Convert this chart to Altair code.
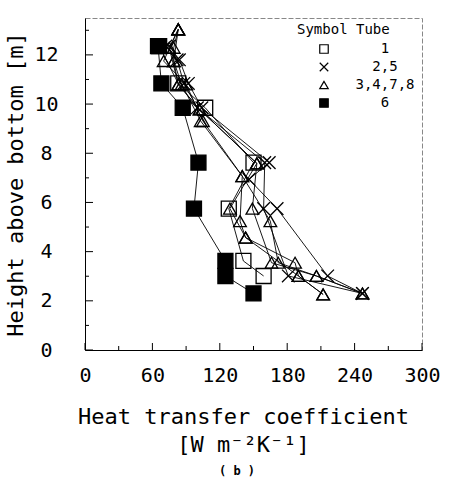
import altair as alt
import pandas as pd

# Heat transfer coefficient profiles along the column height, one list pair per tube
# (height above bottom in m, coefficient in W m^-2 K^-1)
tube1_h = [12.36, 10.84, 9.85, 7.62, 5.75, 3.62, 3.01]
tube1_k = [66, 83, 107, 150, 128, 141, 159]

tube2_h = [12.36, 11.80, 10.84, 9.85, 7.62, 5.75, 3.01, 2.30]
tube2_k = [72, 82, 88, 100, 160, 159, 181, 247]

tube5_h = [12.36, 11.80, 10.84, 9.85, 7.62, 6.94, 5.75, 3.01, 2.30]
tube5_k = [75, 84, 92, 104, 164, 146, 171, 216, 247]

tube3_h = [13.04, 12.29, 11.75, 10.80, 9.78, 7.59, 5.75, 3.55, 3.01, 2.30]
tube3_k = [83, 79, 79, 83, 102, 153, 149, 166, 206, 247]

tube4_h = [13.04, 11.75, 10.80, 9.31, 7.07, 5.24, 4.57, 3.55, 3.01, 2.26]
tube4_k = [83, 70, 90, 105, 140, 138, 143, 187, 190, 212]

tube7_h = [13.04, 11.75, 10.80, 9.31, 7.07, 5.24, 3.55, 3.01, 2.30]
tube7_k = [83, 79, 86, 103, 140, 165, 172, 206, 247]

tube8_h = [13.04, 12.29, 10.80, 9.78, 7.59, 5.75, 4.57, 3.01, 2.26]
tube8_k = [83, 75, 83, 102, 153, 129, 143, 190, 212]

tube6_h = [12.36, 10.84, 9.85, 7.62, 5.75, 3.62, 3.01, 2.30]
tube6_k = [65, 68, 87, 101, 97, 125, 125, 150]

groups = ["1", "2,5", "3,4,7,8", "6"]
x_ticks = [0, 30, 60, 90, 120, 150, 180, 210, 240, 270, 300]
x_labels = [0, 60, 120, 180, 240, 300]
y_ticks = list(range(0, 14))
y_labels = [0, 2, 4, 6, 8, 10, 12]

series = [
    ("1", "1", tube1_h, tube1_k),
    ("2", "2,5", tube2_h, tube2_k),
    ("5", "2,5", tube5_h, tube5_k),
    ("3", "3,4,7,8", tube3_h, tube3_k),
    ("4", "3,4,7,8", tube4_h, tube4_k),
    ("7", "3,4,7,8", tube7_h, tube7_k),
    ("8", "3,4,7,8", tube8_h, tube8_k),
    ("6", "6", tube6_h, tube6_k),
]
rows = []
for tube, grp, hs, ks in series:
    for i, (h, k) in enumerate(zip(hs, ks)):
        rows.append({"tube": tube, "group": grp, "seq": i, "h": h, "k": k})
df = pd.DataFrame(rows)

FONT = "DejaVu Sans Mono"
W, H = 337, 332

xs = alt.Scale(domain=[0, 300], nice=False, zero=False)
ys = alt.Scale(domain=[0, 13.5], nice=False, zero=False)

cross = "M-1,-1L1,1M-1,1L1,-1"
shape_scale = alt.Scale(domain=groups, range=["square", cross, "triangle-up", "square"])
fill_scale = alt.Scale(domain=groups, range=["transparent", "transparent", "transparent", "black"])
stroke_scale = alt.Scale(domain=groups, range=["black", "black", "black", "black"])

legend = alt.Legend(
    title="Symbol Tube",
    orient="none",
    legendX=212,
    legendY=5,
    titleFont=FONT,
    titleFontSize=14,
    titleFontWeight="normal",
    titleColor="black",
    titlePadding=5,
    labelFont=FONT,
    labelFontSize=14,
    labelColor="black",
    labelAlign="center",
    labelOffset=54,
    symbolOffset=20,
    symbolSize=72,
    symbolStrokeColor="black",
    symbolStrokeWidth=1.2,
    symbolOpacity=1,
    rowPadding=4,
)

x_axis = alt.Axis(
    values=x_labels,
    title=["Heat transfer coefficient", "[W m\u207b\u00b2K\u207b\u00b9]"],
    titleX=158,
    titleY=56,
    titleBaseline="top",
    titleAlign="center",
    titleLineHeight=28,
)
y_axis = alt.Axis(
    values=y_labels,
    title="Height above bottom [m]",
    titleX=-70,
    titleY=166,
    titleAngle=270,
    titleAlign="center",
    titleBaseline="middle",
)

lines = alt.Chart(df).mark_line(color="black", strokeWidth=0.9).encode(
    x=alt.X("k:Q", scale=xs, axis=x_axis),
    y=alt.Y("h:Q", scale=ys, axis=y_axis),
    detail="tube:N",
    order="seq:Q",
)


def symbols(selected, size):
    return (
        alt.Chart(df)
        .transform_filter(alt.FieldOneOfPredicate(field="group", oneOf=selected))
        .mark_point(opacity=1, strokeWidth=1.3, size=size)
        .encode(
            x=alt.X("k:Q", scale=xs, axis=x_axis),
            y=alt.Y("h:Q", scale=ys, axis=y_axis),
            shape=alt.Shape("group:N", scale=shape_scale, legend=legend),
            fill=alt.Fill("group:N", scale=fill_scale, legend=legend),
            stroke=alt.Stroke("group:N", scale=stroke_scale, legend=legend),
        )
    )


squares = symbols(["1", "6"], 225)
others = symbols(["2,5", "3,4,7,8"], 160)

# Inward tick marks on the bottom and left axes
xt = pd.DataFrame({"k": x_ticks})
xt["major"] = xt["k"] % 60 == 0
yt = pd.DataFrame({"h": y_ticks})
yt["major"] = yt["h"] % 2 == 0

x_major = alt.Chart(xt).transform_filter("datum.major").mark_rule(color="black", strokeWidth=1).encode(
    x=alt.X("k:Q", scale=xs, axis=x_axis), y=alt.value(H), y2=alt.value(H - 7)
)
x_minor = alt.Chart(xt).transform_filter("!datum.major").mark_rule(color="black", strokeWidth=1).encode(
    x=alt.X("k:Q", scale=xs, axis=x_axis), y=alt.value(H), y2=alt.value(H - 4)
)
y_major = alt.Chart(yt).transform_filter("datum.major").mark_rule(color="black", strokeWidth=1).encode(
    y=alt.Y("h:Q", scale=ys, axis=y_axis), x=alt.value(0), x2=alt.value(8)
)
y_minor = alt.Chart(yt).transform_filter("!datum.major").mark_rule(color="black", strokeWidth=1).encode(
    y=alt.Y("h:Q", scale=ys, axis=y_axis), x=alt.value(0), x2=alt.value(4)
)

panel = alt.Chart(pd.DataFrame({"t": ["( b )"]})).mark_text(
    font=FONT, fontSize=12, fontWeight="bold", color="black"
).encode(text="t:N", x=alt.value(152), y=alt.value(453))

chart = (
    alt.layer(x_major, x_minor, y_major, y_minor, lines, squares, others, panel)
    .properties(
        width=W,
        height=H,
        padding={"left": 85, "top": 18, "right": 32, "bottom": 134},
        autosize=alt.AutoSizeParams(type="none"),
        background="white",
    )
    .configure_view(stroke="#888888", strokeDash=[5, 2], strokeWidth=1)
    .configure_axis(
        grid=False,
        ticks=False,
        domainColor="black",
        domainWidth=1,
        labelFont=FONT,
        labelFontSize=20,
        labelColor="black",
        titleFont=FONT,
        titleFontSize=22,
        titleFontWeight="normal",
        titleColor="black",
    )
    .configure_axisX(labelPadding=15, labelBaseline="top", labelFlush=False)
    .configure_axisY(labelPadding=39, labelAlign="center", labelBaseline="middle", labelFlush=False)
)

chart.save("out.html", embed_options={"renderer": "svg", "actions": False})
